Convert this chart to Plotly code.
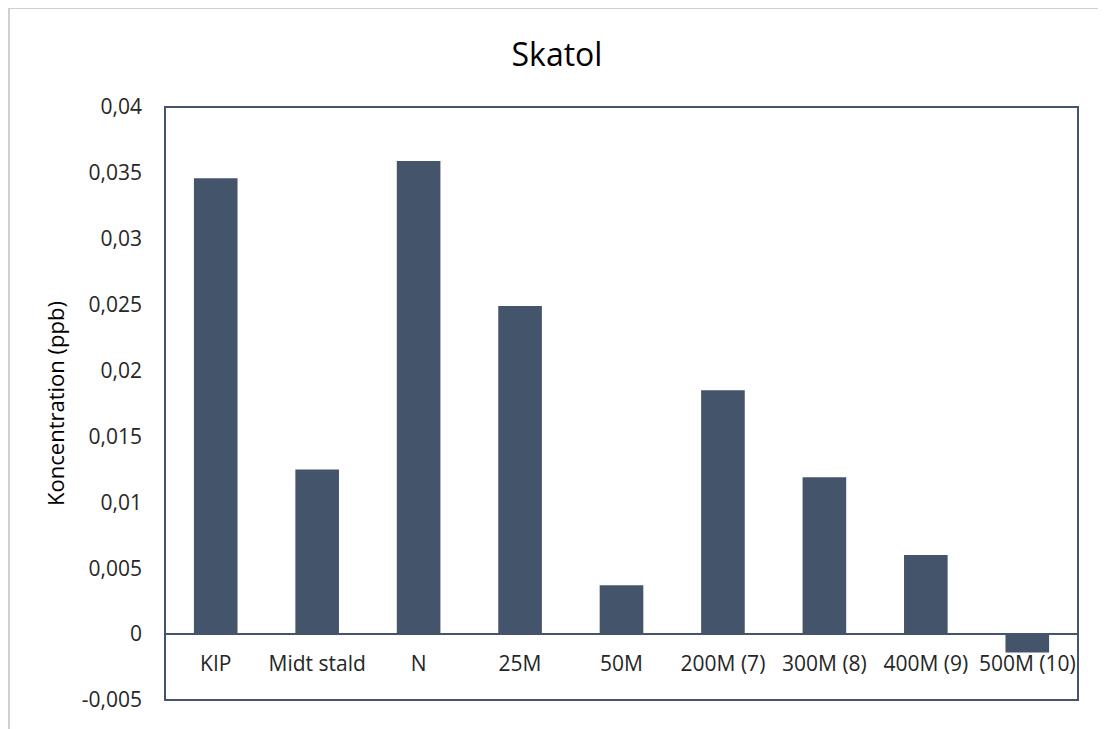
import plotly.graph_objects as go

categories = ["KIP", "Midt stald", "N", "25M", "50M", "200M (7)", "300M (8)", "400M (9)", "500M (10)"]
values = [0.0346, 0.0125, 0.0359, 0.0249, 0.0037, 0.0185, 0.0119, 0.0060, -0.0014]
y_tickvals = [-0.005, 0, 0.005, 0.01, 0.015, 0.02, 0.025, 0.03, 0.035, 0.04]
y_ticktext = ["-0,005", "0", "0,005", "0,01", "0,015", "0,02", "0,025", "0,03", "0,035", "0,04"]

BAR = "#44546A"
FONT = "Open Sans"
TXT = "#262626"
ymin, ymax = -0.005, 0.04

fig = go.Figure(go.Bar(x=categories, y=values, marker=dict(color=BAR, line=dict(width=0)), width=0.43))

# page body has an 8px margin; compensate
fig.update_layout(
    width=1098, height=721,
    margin=dict(l=157, r=28, t=99, b=29),
    paper_bgcolor="white", plot_bgcolor="white",
    font=dict(family=FONT, color=TXT, size=21),
    title=dict(text="Skatol", x=0.5, xref="container", xanchor="center",
               y=1 - 47 / 721, yref="container", yanchor="middle",
               font=dict(family=FONT, size=32, color="black")),
    showlegend=False,
    bargap=0.57,
)
fig.update_xaxes(
    anchor="free", position=(0 - ymin) / (ymax - ymin),
    showline=False, showgrid=False, ticks="",
    tickfont=dict(family=FONT, size=21, color=TXT),
    ticklabelstandoff=15,
)
fig.update_yaxes(
    range=[ymin, ymax], tickvals=y_tickvals, ticktext=y_ticktext,
    showgrid=False, zeroline=True, zerolinecolor=BAR, zerolinewidth=2,
    showline=False, ticks="",
    tickfont=dict(family=FONT, size=21, color=TXT),
    ticklabelstandoff=22,
    title=dict(text="Koncentration (ppb)", font=dict(family=FONT, size=22, color="black"), standoff=11),
)
# plot frame
fig.add_shape(type="rect", xref="x domain", yref="y domain", x0=0, x1=1, y0=0, y1=1,
              line=dict(color=BAR, width=2), fillcolor="rgba(0,0,0,0)", layer="above")
# outer chart border
fig.add_shape(type="rect", xref="paper", yref="paper",
              x0=(9 - 165) / 913, x1=(1103 - 165) / 913,
              y0=-0.1, y1=(700 - 8) / 593,
              line=dict(color="#D0D0D0", width=2), fillcolor="rgba(0,0,0,0)", layer="below")

fig.write_html("out.html")
